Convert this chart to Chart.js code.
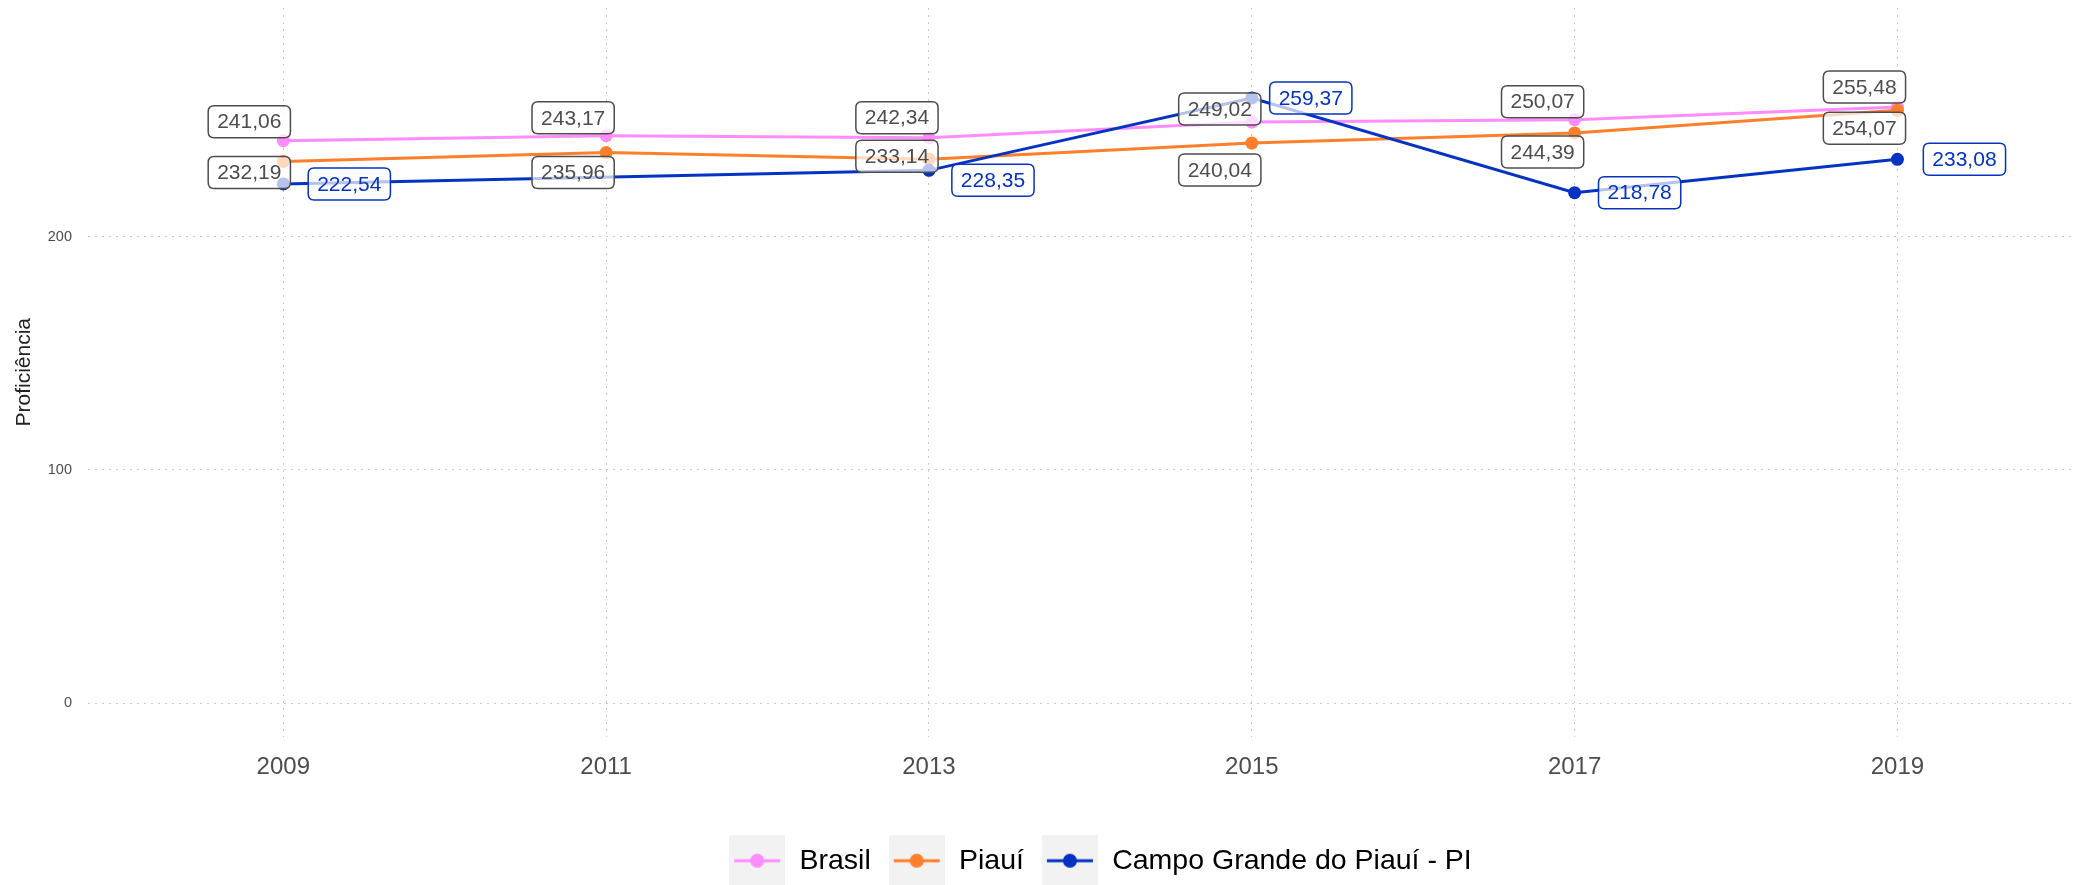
<!DOCTYPE html>
<html>
<head>
<meta charset="utf-8">
<script src="https://cdn.jsdelivr.net/npm/chart.js@4/dist/chart.umd.min.js"></script>
<style>
  body { margin: 0; background: #fff; }
  #wrap { width: 2080px; height: 885px; position: relative; }
</style>
</head>
<body>
<div id="wrap"><canvas id="chart-area"></canvas></div>
<script>
var years = [2009, 2011, 2013, 2015, 2017, 2019];
var brasil = [241.06, 243.17, 242.34, 249.02, 250.07, 255.48];
var piaui = [232.19, 235.96, 233.14, 240.04, 244.39, 254.07];
var campoGrande = [222.54, null, 228.35, 259.37, 218.78, 233.08];
var seriesNames = ['Brasil', 'Piauí', 'Campo Grande do Piauí - PI'];
var yTicks = [0, 100, 200];

var colors = ['#ff8cff', '#ff7f2a', '#0433c4'];
var labelColors = ['#4d4d4d', '#4d4d4d', '#0433c4'];

// where each value label sits, relative to its point (px)
var labelOffsets = [
  [[-34, -19], [-33, -18], [-32, -20], [-32, -13], [-32, -18], [-33, -20]],
  [[-34, 11], [-33, 20], [-32, -3], [-32, 27], [-32, 19], [-33, 18]],
  [[66, 0], null, [64, 10], [59, 0], [65, 0], [67, 0]]
];

function toPoints(values) {
  return years.map(function (y, i) {
    return { x: y, y: values[i] };
  });
}

function fmt(v) {
  return v.toFixed(2).replace('.', ',');
}

function makeKey(color) {
  var c = document.createElement('canvas');
  c.width = 56; c.height = 52;
  var k = c.getContext('2d');
  k.fillStyle = '#f2f2f2';
  k.fillRect(0, 0, 56, 52);
  k.strokeStyle = color;
  k.lineWidth = 3;
  k.beginPath();
  k.moveTo(5, 26); k.lineTo(51, 26);
  k.stroke();
  k.fillStyle = color;
  k.beginPath();
  k.arc(28, 26, 7, 0, Math.PI * 2);
  k.fill();
  return c;
}
var keys = colors.map(makeKey);

function roundRect(ctx, x, y, w, h, r) {
  ctx.beginPath();
  ctx.moveTo(x + r, y);
  ctx.lineTo(x + w - r, y);
  ctx.quadraticCurveTo(x + w, y, x + w, y + r);
  ctx.lineTo(x + w, y + h - r);
  ctx.quadraticCurveTo(x + w, y + h, x + w - r, y + h);
  ctx.lineTo(x + r, y + h);
  ctx.quadraticCurveTo(x, y + h, x, y + h - r);
  ctx.lineTo(x, y + r);
  ctx.quadraticCurveTo(x, y, x + r, y);
  ctx.closePath();
}

var valueLabels = {
  id: 'valueLabels',
  afterDatasetsDraw: function (chart) {
    var ctx = chart.ctx;
    ctx.save();
    ctx.font = '21px "Liberation Sans", Arial, sans-serif';
    ctx.textAlign = 'center';
    ctx.textBaseline = 'middle';
    chart.data.datasets.forEach(function (ds, di) {
      var meta = chart.getDatasetMeta(di);
      ds.data.forEach(function (p, i) {
        if (p.y === null || !labelOffsets[di][i]) return;
        var el = meta.data[i];
        var txt = fmt(p.y);
        var w = ctx.measureText(txt).width + 18;
        var h = 32;
        var cx = el.x + labelOffsets[di][i][0];
        var cy = el.y + labelOffsets[di][i][1];
        roundRect(ctx, cx - w / 2, cy - h / 2, w, h, 6);
        ctx.fillStyle = 'rgba(255,255,255,0.7)';
        ctx.fill();
        ctx.lineWidth = 1.5;
        ctx.strokeStyle = labelColors[di];
        ctx.stroke();
        ctx.fillStyle = labelColors[di];
        ctx.fillText(txt, cx, cy + 1);
      });
    });
    ctx.restore();
  }
};

// the legend sits a little right of the canvas centre in the original
var legendShift = {
  id: 'legendShift',
  afterLayout: function (chart) {
    chart.legend.left += 63;
    chart.legend.right += 63;
  }
};

var allSeries = [brasil, piaui, campoGrande];

var config = {
  type: 'line',
  data: {
    datasets: allSeries.map(function (vals, i) {
      return {
        label: seriesNames[i],
        data: toPoints(vals),
        borderColor: colors[i],
        backgroundColor: colors[i],
        borderWidth: 3,
        pointRadius: 6.5,
        pointHoverRadius: 6.5,
        pointBorderWidth: 0,
        spanGaps: true,
        tension: 0,
        order: 3 - i
      };
    })
  },
  options: {
    responsive: true,
    maintainAspectRatio: false,
    animation: false,
    layout: { autoPadding: false, padding: { top: 8, right: 5, left: 0, bottom: 0 } },
    scales: {
      x: {
        type: 'linear',
        min: 2007.79,
        max: 2020.1,
        afterBuildTicks: function (axis) {
          axis.ticks = years.map(function (v) { return { value: v }; });
        },
        afterFit: function (axis) {
          axis.height = 92;
          axis.paddingLeft = 0; axis.paddingRight = 0;
          axis.paddingTop = 0; axis.paddingBottom = 0;
        },
        grid: { color: '#cccccc', lineWidth: 1, drawTicks: false },
        border: { display: false, dash: [2, 5] },
        ticks: {
          padding: 16,
          color: '#4d4d4d',
          font: { size: 24, family: '"Liberation Sans", Arial, sans-serif' },
          callback: function (v) { return String(v); }
        }
      },
      y: {
        min: -14.2,
        max: 297.9,
        afterBuildTicks: function (axis) {
          axis.ticks = yTicks.map(function (v) { return { value: v }; });
        },
        afterFit: function (axis) {
          axis.width = 88;
          axis.paddingTop = 0; axis.paddingBottom = 0;
          axis.paddingLeft = 0; axis.paddingRight = 0;
        },
        grid: { color: '#cccccc', lineWidth: 1, drawTicks: false },
        border: { display: false, dash: [2, 5] },
        ticks: {
          padding: 16,
          color: '#4d4d4d',
          font: { size: 14.5, family: '"Liberation Sans", Arial, sans-serif' }
        },
        title: {
          display: true,
          text: 'Proficiência',
          color: '#222',
          padding: { top: 12, bottom: 0 },
          font: { size: 21, family: '"Liberation Sans", Arial, sans-serif' }
        }
      }
    },
    plugins: {
      tooltip: { enabled: false },
      legend: {
        display: true,
        position: 'bottom',
        labels: {
          usePointStyle: true,
          pointStyleWidth: 56,
          padding: 18,
          color: '#000',
          font: { size: 28.5, family: '"Liberation Sans", Arial, sans-serif' },
          sort: function (a, b) { return a.datasetIndex - b.datasetIndex; },
          generateLabels: function (chart) {
            var items = Chart.defaults.plugins.legend.labels.generateLabels(chart);
            items.forEach(function (it) { it.pointStyle = keys[it.datasetIndex]; });
            return items;
          }
        }
      }
    }
  },
  plugins: [valueLabels, legendShift]
};

var ctx = document.getElementById('chart-area').getContext('2d');
window.myLine = new Chart(ctx, config);
</script>
</body>
</html>
